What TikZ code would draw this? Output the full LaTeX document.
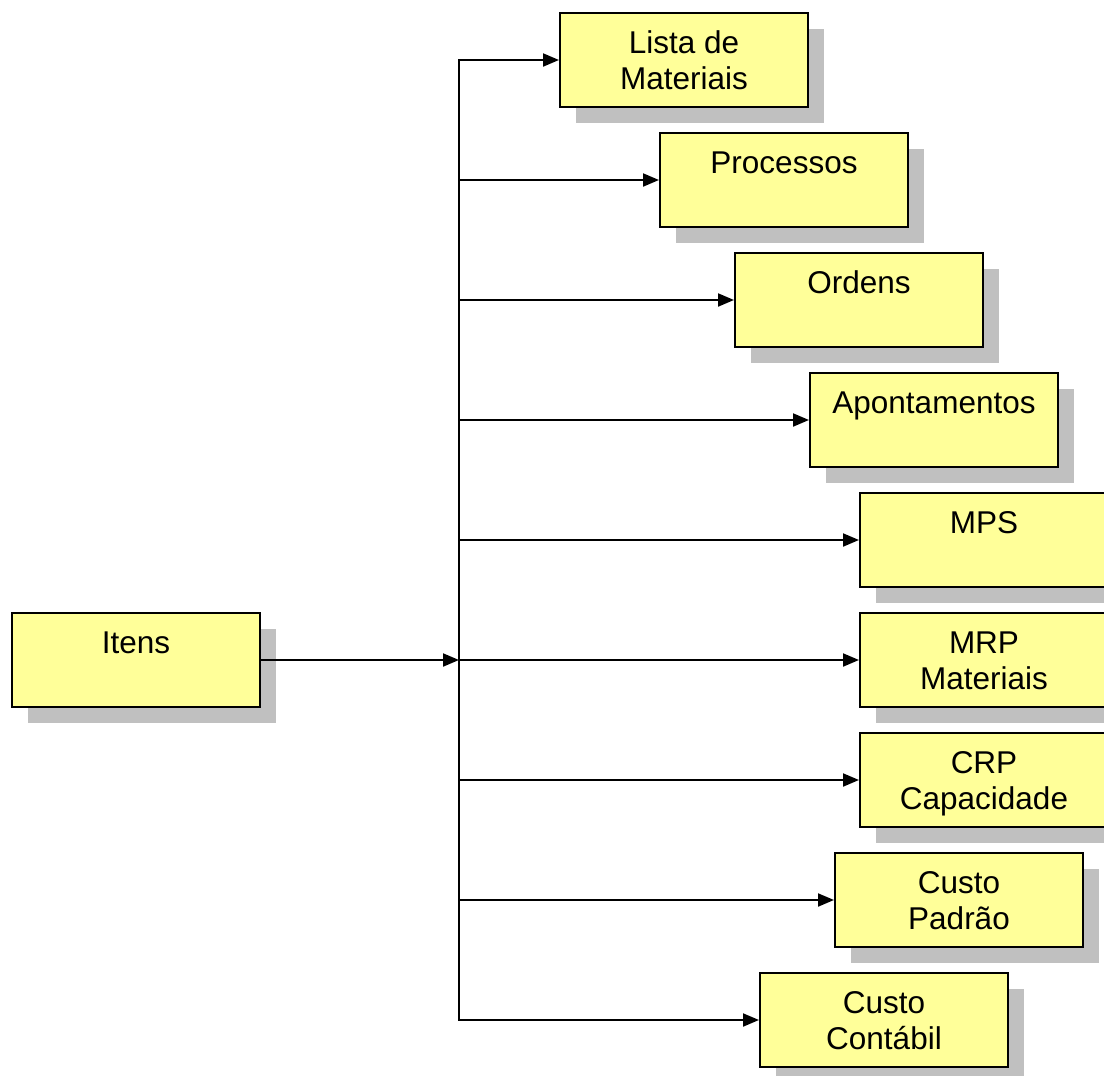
\documentclass[tikz,border=0pt]{standalone}
\usepackage{fontspec}
\setmainfont{Liberation Sans}
\usetikzlibrary{shadows,arrows.meta}
\definecolor{boxfill}{HTML}{FFFF99}
\definecolor{shadowgray}{HTML}{C0C0C0}

\begin{document}
\begin{tikzpicture}[x=1pt,y=-1pt,
  modulo/.style={draw, line width=2pt, fill=boxfill, minimum width=248pt,
    minimum height=94pt, inner sep=0pt,
    drop shadow={shadow xshift=16pt, shadow yshift=-16pt, fill=shadowgray, opacity=1}},
  rotulo/.style={font=\fontsize{31.5}{36}\selectfont, align=center, inner sep=0pt,
    anchor=north},
  seta/.style={line width=2pt, -{Triangle[length=16pt,width=13pt]}},
  barra/.style={line width=2pt, {Triangle[length=16pt,width=13pt]}-{Triangle[length=16pt,width=13pt]}}]
\useasboundingbox (0,0) rectangle (1104,1076);
\clip (0,0) rectangle (1104,1076);

% modulos
\node[modulo] (itens) at (136,660) {};
\node[modulo] (lista) at (684,60) {};
\node[modulo] (processos) at (784,180) {};
\node[modulo] (ordens) at (859,300) {};
\node[modulo] (apontamentos) at (934,420) {};
\node[modulo] (mps) at (984,540) {};
\node[modulo] (mrp) at (984,660) {};
\node[modulo] (crp) at (984,780) {};
\node[modulo] (padrao) at (959,900) {};
\node[modulo] (contabil) at (884,1020) {};

% textos (baseline 40pt below the top edge)
\node[rotulo] (titens) at ([yshift=-16.3pt]itens.north) {\strut Itens};
\node[rotulo] (tlista) at ([yshift=-16.3pt]lista.north) {\strut Lista de\\Materiais};
\node[rotulo] (tprocessos) at ([yshift=-16.3pt]processos.north) {\strut Processos};
\node[rotulo] (tordens) at ([yshift=-16.3pt]ordens.north) {\strut Ordens};
\node[rotulo] (tapontamentos) at ([yshift=-16.3pt]apontamentos.north) {\strut Apontamentos};
\node[rotulo] (tmps) at ([yshift=-16.3pt]mps.north) {\strut MPS};
\node[rotulo] (tmrp) at ([yshift=-16.3pt]mrp.north) {\strut MRP\\Materiais};
\node[rotulo] (tcrp) at ([yshift=-16.3pt]crp.north) {\strut CRP\\Capacidade};
\node[rotulo] (tpadrao) at ([yshift=-16.3pt]padrao.north) {\strut Custo\\Padrão};
\node[rotulo] (tcontabil) at ([yshift=-16.3pt]contabil.north) {\strut Custo\\Contábil};

% barramento
\coordinate (b1) at (459,60);
\coordinate (b2) at (459,180);
\coordinate (b3) at (459,300);
\coordinate (b4) at (459,420);
\coordinate (b5) at (459,540);
\coordinate (b6) at (459,660);
\coordinate (b7) at (459,780);
\coordinate (b8) at (459,900);
\coordinate (b9) at (459,1020);

\draw[barra] (lista.west) -- (b1) -- (b9) -- (contabil.west);
\draw[seta] (itens.east) -- (b6);
\draw[seta] (b2) -- (processos.west);
\draw[seta] (b3) -- (ordens.west);
\draw[seta] (b4) -- (apontamentos.west);
\draw[seta] (b5) -- (mps.west);
\draw[seta] (b6) -- (mrp.west);
\draw[seta] (b7) -- (crp.west);
\draw[seta] (b8) -- (padrao.west);
\end{tikzpicture}
\end{document}
